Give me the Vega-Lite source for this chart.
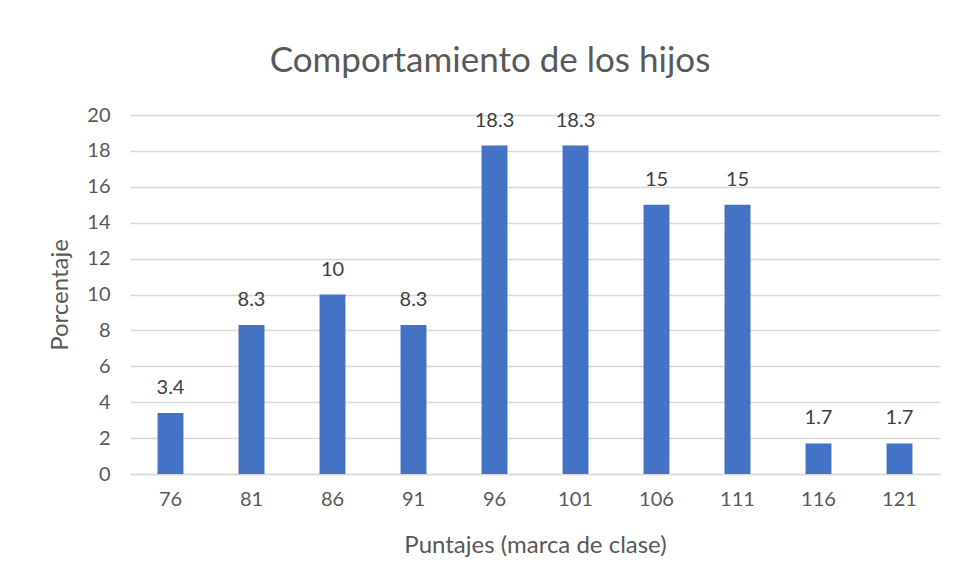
{
  "$schema": "https://vega.github.io/schema/vega-lite/v6.json",
  "width": 810,
  "height": 359,
  "autosize": {"type": "none"},
  "padding": {"left": 130, "top": 115, "right": 16, "bottom": 111},
  "background": "white",
  "title": {
    "text": "Comportamiento de los hijos",
    "font": "Lato",
    "fontSize": 35,
    "fontWeight": "normal",
    "color": "#595959",
    "anchor": "middle",
    "dx": -45,
    "offset": 26
  },
  "data": {
    "values": [
      {"marca": "76", "pct": 3.4},
      {"marca": "81", "pct": 8.3},
      {"marca": "86", "pct": 10},
      {"marca": "91", "pct": 8.3},
      {"marca": "96", "pct": 18.3},
      {"marca": "101", "pct": 18.3},
      {"marca": "106", "pct": 15},
      {"marca": "111", "pct": 15},
      {"marca": "116", "pct": 1.7},
      {"marca": "121", "pct": 1.7}
    ]
  },
  "encoding": {
    "x": {
      "field": "marca",
      "type": "ordinal",
      "sort": null,
      "scale": {"paddingInner": 0.68, "paddingOuter": 0.34},
      "axis": {
        "title": "Puntajes (marca de clase)",
        "labelAngle": 0,
        "ticks": false,
        "domainColor": "#D9D9D9",
        "domainWidth": 1.5,
        "labelPadding": 15,
        "titlePadding": 24,
        "labelFont": "Lato",
        "labelFontSize": 20,
        "labelColor": "#595959",
        "titleFont": "Lato",
        "titleFontSize": 24,
        "titleFontWeight": "normal",
        "titleColor": "#595959"
      }
    },
    "y": {
      "field": "pct",
      "type": "quantitative",
      "scale": {"domain": [0, 20]},
      "axis": {
        "title": "Porcentaje",
        "values": [0, 2, 4, 6, 8, 10, 12, 14, 16, 18, 20],
        "ticks": false,
        "domain": false,
        "grid": true,
        "gridColor": "#D9D9D9",
        "gridWidth": 1.5,
        "labelPadding": 20,
        "titlePadding": 14,
        "labelFont": "Lato",
        "labelFontSize": 20,
        "labelColor": "#595959",
        "titleFont": "Lato",
        "titleFontSize": 24,
        "titleFontWeight": "normal",
        "titleColor": "#595959"
      }
    }
  },
  "layer": [
    {"mark": {"type": "bar", "color": "#4472C4"}},
    {
      "mark": {"type": "text", "baseline": "bottom", "dy": -15, "font": "Lato", "fontSize": 20, "color": "#404040"},
      "encoding": {"text": {"field": "pct", "type": "quantitative"}}
    }
  ],
  "config": {"view": {"stroke": null}}
}
